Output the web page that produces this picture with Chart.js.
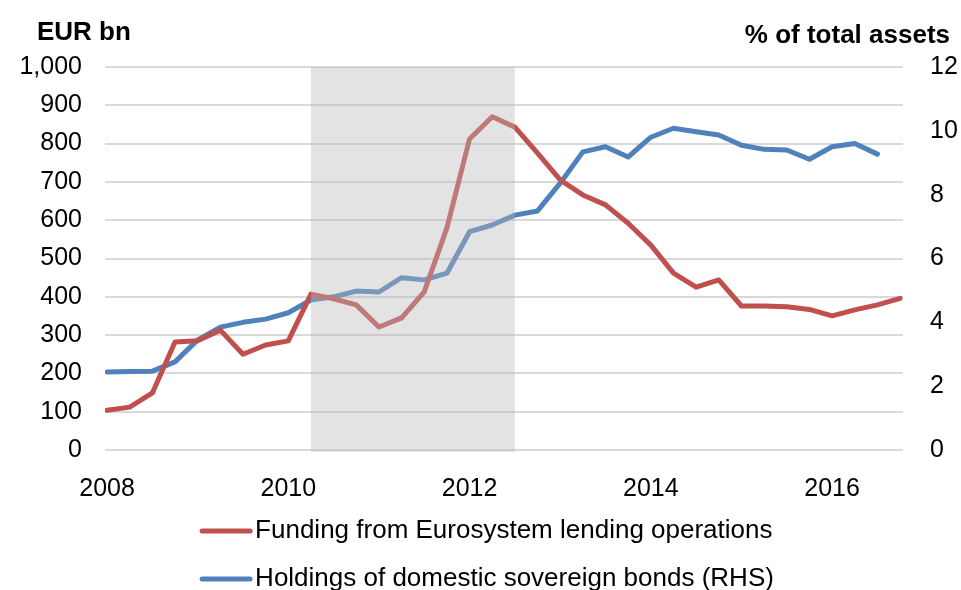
<!DOCTYPE html>
<html>
<head>
<meta charset="utf-8">
<script src="https://cdn.jsdelivr.net/npm/chart.js@4.4.1/dist/chart.umd.min.js"></script>
<style>
  html, body { margin: 0; padding: 0; background: #fff; }
</style>
</head>
<body>
<canvas id="chart" width="961" height="590"></canvas>
<script>
// quarterly observations, 2008Q1 - 2016Q4
const quarters = [
  '2008Q1','2008Q2','2008Q3','2008Q4','2009Q1','2009Q2','2009Q3','2009Q4',
  '2010Q1','2010Q2','2010Q3','2010Q4','2011Q1','2011Q2','2011Q3','2011Q4',
  '2012Q1','2012Q2','2012Q3','2012Q4','2013Q1','2013Q2','2013Q3','2013Q4',
  '2014Q1','2014Q2','2014Q3','2014Q4','2015Q1','2015Q2','2015Q3','2015Q4',
  '2016Q1','2016Q2','2016Q3','2016Q4'
];

// EUR bn, left axis
const eurosystemFunding = [
  104, 112, 149, 282, 285, 313, 250, 274,
  285, 407, 395, 379, 321, 345, 413, 580,
  812, 870, 843, 775, 705, 666, 640, 592,
  535, 462, 425, 444, 376, 376, 374, 367,
  350, 366, 379, 396
];

// % of total assets, right axis
const sovereignHoldings = [
  2.44, 2.46, 2.47, 2.76, 3.45, 3.85, 4.0, 4.1,
  4.3, 4.7, 4.8, 4.98, 4.95, 5.4, 5.33, 5.54,
  6.84, 7.05, 7.36, 7.49, 8.36, 9.34, 9.5, 9.18,
  9.8, 10.08, 9.97, 9.87, 9.55, 9.42, 9.40, 9.11,
  9.5, 9.6, 9.27, null
];

const yearTicks = ['2008', '2010', '2012', '2014', '2016'];
const shadedFrom = '2010Q2';
const shadedTo = '2012Q3';

const FONT = "'Liberation Sans', Arial, sans-serif";
const RED = '#C0504D';
const BLUE = '#4F81BD';

const toPoints = vals => vals.map((v, i) => ({ x: i, y: v }));

// grey band for the crisis period, drawn over the lines
const shadePlugin = {
  id: 'shade',
  afterDatasetsDraw(chart) {
    const { ctx, chartArea, scales } = chart;
    const x1 = scales.x.getPixelForValue(quarters.indexOf(shadedFrom));
    const x2 = scales.x.getPixelForValue(quarters.indexOf(shadedTo));
    ctx.save();
    ctx.fillStyle = 'rgba(185,185,185,0.4)';
    ctx.fillRect(x1, chartArea.top, x2 - x1, chartArea.bottom - chartArea.top + 2);
    ctx.restore();
  }
};

// axis titles + legend
const extrasPlugin = {
  id: 'extras',
  afterDraw(chart) {
    const ctx = chart.ctx;
    ctx.save();
    ctx.fillStyle = '#000';
    ctx.font = 'bold 26px ' + FONT;
    ctx.textBaseline = 'alphabetic';
    ctx.textAlign = 'left';
    ctx.fillText('EUR bn', 37, 40);
    ctx.textAlign = 'right';
    ctx.fillText('% of total assets', 950, 43);

    ctx.font = '26px ' + FONT;
    ctx.textAlign = 'left';
    ctx.textBaseline = 'middle';
    const sets = chart.data.datasets;
    const widest = Math.max(...sets.map(d => ctx.measureText(d.label).width));
    const x0 = 488 - (53 + widest) / 2;
    sets.forEach((d, i) => {
      const y = 531 + i * 48;
      ctx.strokeStyle = d.borderColor;
      ctx.lineWidth = 5;
      ctx.lineCap = 'round';
      ctx.beginPath();
      ctx.moveTo(x0, y);
      ctx.lineTo(x0 + 48, y);
      ctx.stroke();
      ctx.fillText(d.label, x0 + 53, y);
    });
    ctx.restore();
  }
};

new Chart(document.getElementById('chart'), {
  type: 'line',
  data: {
    datasets: [{
      label: 'Funding from Eurosystem lending operations',
      data: toPoints(eurosystemFunding),
      borderColor: RED,
      yAxisID: 'y'
    }, {
      label: 'Holdings of domestic sovereign bonds (RHS)',
      data: toPoints(sovereignHoldings),
      borderColor: BLUE,
      yAxisID: 'y1'
    }]
  },
  options: {
    responsive: false,
    animation: false,
    layout: { padding: { top: 67, left: 0, right: 0, bottom: 0 } },
    elements: {
      point: { radius: 0 },
      line: { borderWidth: 5, tension: 0, borderJoinStyle: 'round', borderCapStyle: 'round' }
    },
    plugins: { legend: { display: false }, tooltip: { enabled: false } },
    scales: {
      x: {
        type: 'linear',
        min: -0.09,
        max: 35.13,
        grid: { display: false },
        border: { display: false },
        afterBuildTicks(scale) {
          scale.ticks = yearTicks.map(y => ({ value: quarters.indexOf(y + 'Q1') }));
        },
        afterFit(scale) { scale.height = 140; },
        ticks: {
          autoSkip: false,
          maxRotation: 0,
          padding: 16,
          color: '#000',
          font: { family: FONT, size: 25 },
          callback: v => quarters[v].slice(0, 4)
        }
      },
      y: {
        position: 'left',
        min: 0,
        max: 1000,
        afterFit(scale) { scale.width = 105; },
        grid: { color: '#D9D9D9', lineWidth: 2, drawTicks: false },
        border: { display: false },
        ticks: {
          stepSize: 100,
          padding: 23,
          color: '#000',
          font: { family: FONT, size: 25 },
          callback: v => v.toLocaleString('en-US')
        }
      },
      y1: {
        position: 'right',
        min: 0,
        max: 12,
        afterFit(scale) { scale.width = 58; },
        grid: { display: false, drawTicks: false },
        border: { display: false },
        ticks: {
          stepSize: 2,
          padding: 27,
          color: '#000',
          font: { family: FONT, size: 25 }
        }
      }
    }
  },
  plugins: [shadePlugin, extrasPlugin]
});
</script>
</body>
</html>
